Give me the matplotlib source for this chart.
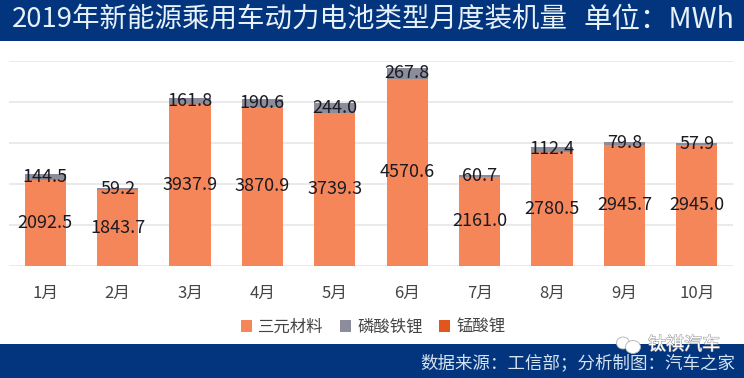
import matplotlib
matplotlib.use('Agg')
import matplotlib.pyplot as plt
import matplotlib.patheffects as pe
from matplotlib.patches import Ellipse, Rectangle

plt.rcParams['font.family'] = ['Noto Sans CJK SC', 'DejaVu Sans']

months = ['1月', '2月', '3月', '4月', '5月', '6月', '7月', '8月', '9月', '10月']
ternary = [2092.5, 1843.7, 3937.9, 3870.9, 3739.3, 4570.6, 2161.0, 2780.5, 2945.7, 2945.0]
lfp = [144.5, 59.2, 161.8, 190.6, 244.0, 267.8, 60.7, 112.4, 79.8, 57.9]
lmo = [0, 0, 0, 0, 0, 0, 0, 0, 0, 0]
series_names = ['三元材料', '磷酸铁锂', '锰酸锂']

W, H = 744, 378
NAVY = '#03357f'
fig = plt.figure(figsize=(W / 100, H / 100), dpi=100, facecolor='white')

# 上下两条深蓝色色带
fig.add_artist(Rectangle((0, 1 - 41 / H), 1, 41 / H, transform=fig.transFigure, color=NAVY, lw=0))
fig.add_artist(Rectangle((0, 0), 1, 34 / H, transform=fig.transFigure, color=NAVY, lw=0))

ax = fig.add_axes([9 / W, 1 - 265.5 / H, 724 / W, 204.5 / H])
x = list(range(len(months)))
bottom2 = ternary
bottom3 = [a + b for a, b in zip(ternary, lfp)]
b1 = ax.bar(x, ternary, width=0.57, color='#f4865a', label=series_names[0], zorder=2)
b2 = ax.bar(x, lfp, width=0.57, bottom=bottom2, color='#8b8d9b', label=series_names[1], zorder=2)
ax.bar(x, lmo, width=0.57, bottom=bottom3, color='#e0561d', label=series_names[2], zorder=2)

ax.bar_label(b1, labels=[f'{v:.1f}' for v in ternary], label_type='center', fontsize=13, color='#1a1a22', zorder=3)
ax.bar_label(b2, labels=[f'{v:.1f}' for v in lfp], label_type='center', fontsize=13, color='#1a1a22', zorder=3)

ax.set_xlim(-0.5, 9.5)
ax.set_ylim(0, 5000)
ax.set_xticks(x)
ax.set_xticklabels(months, fontsize=12, color='#444444')
ax.set_yticks([0, 1000, 2000, 3000, 4000, 5000])
ax.set_yticklabels([])
ax.tick_params(length=0)
ax.tick_params(axis='x', pad=14)
ax.grid(axis='y', color='#e6e6e6', lw=1.2, zorder=0)
for s in ax.spines.values():
    s.set_visible(False)

fig.legend(loc='center', bbox_to_anchor=(373 / W, 1 - 327 / H), ncol=3, frameon=False, fontsize=11.8,
           handlelength=0.7, handleheight=0.7, handletextpad=0.35, columnspacing=1.0, labelcolor='#444444')

fig.text(12 / W, 1 - 20 / H, '2019年新能源乘用车动力电池类型月度装机量', fontsize=19.8,
         color='#e8f1f8', va='center', ha='left', weight='light')
fig.text(734 / W, 1 - 20 / H, '单位：MWh', fontsize=20.5, color='#e8f1f8', va='center', ha='right', weight='light')
fig.text(735 / W, 1 - 363 / H, '数据来源：工信部；分析制图：汽车之家', fontsize=12.6,
         color='#d5e3f0', va='center', ha='right')

# 水印
halo = [pe.withStroke(linewidth=0.8, foreground='#9a9a9a')]
fig.text(720 / W, 1 - 345 / H, '钛祺汽车', fontsize=13, color='white', va='center', ha='right', path_effects=halo)
for cx, cy, w, h in [(623, 343, 13, 12), (633, 347, 15, 13)]:
    fig.add_artist(Ellipse((cx / W, 1 - cy / H), w / W, h / H, transform=fig.transFigure,
                           facecolor='white', edgecolor='#b0b0b0', lw=0.6, zorder=4))

fig.savefig('out.png', dpi=100)
